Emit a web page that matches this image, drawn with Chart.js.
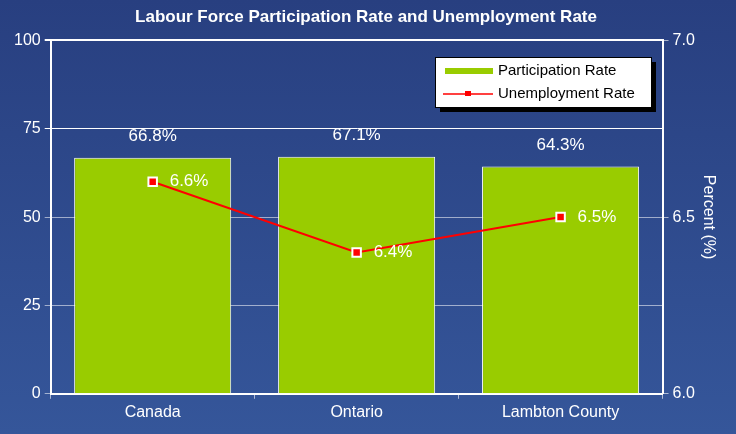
<!DOCTYPE html>
<html>
<head>
<meta charset="utf-8">
<script src="https://cdn.jsdelivr.net/npm/chart.js@4/dist/chart.umd.min.js"></script>
<style>
  html, body { margin: 0; padding: 0; background: #2c4a8c; }
  #wrap { width: 736px; height: 434px; }
</style>
</head>
<body>
<div id="wrap"><canvas id="chart" width="736" height="434"></canvas></div>
<script>
const categories = ['Canada', 'Ontario', 'Lambton County'];
const participation = [66.8, 67.1, 64.3];
const unemployment = [6.6, 6.4, 6.5];
const leftTicks = [0, 25, 50, 75, 100];
const rightTicks = [6.0, 6.5, 7.0];

const FONT = 'Liberation Sans, Arial, sans-serif';

// gradient background behind everything
const bgPlugin = {
    id: 'bg',
    beforeDraw(chart) {
        const ctx = chart.ctx;
        const g = ctx.createLinearGradient(0, 0, 0, chart.height);
        g.addColorStop(0, '#283f80');
        g.addColorStop(1, '#35569a');
        ctx.save();
        ctx.fillStyle = g;
        ctx.fillRect(0, 0, chart.width, chart.height);
        ctx.restore();
    }
};

// value labels above bars / right of points
const labelPlugin = {
    id: 'valueLabels',
    afterDatasetsDraw(chart) {
        const ctx = chart.ctx;
        ctx.save();
        ctx.fillStyle = '#ffffff';
        ctx.font = '16px ' + FONT;
        chart.data.datasets.forEach((ds, i) => {
            const meta = chart.getDatasetMeta(i);
            meta.data.forEach((el, j) => {
                const v = ds.data[j].toFixed(1) + '%';
                if (ds.type === 'bar') {
                    ctx.textAlign = 'center';
                    ctx.textBaseline = 'middle';
                    ctx.fillText(v, el.x, el.y - 21);
                } else {
                    ctx.font = '17px ' + FONT;
                    ctx.textAlign = 'left';
                    ctx.textBaseline = 'middle';
                    ctx.fillText(v, el.x + 17, el.y);
                }
            });
        });
        ctx.restore();
    }
};

// boxed legend with shadow inside the plot area
const legendBox = {
    id: 'legendBox',
    afterDraw(chart) {
        const ctx = chart.ctx;
        const bars = chart.data.datasets.find(d => d.type === 'bar');
        const line = chart.data.datasets.find(d => d.type === 'line');
        const x = 435, y = 57, w = 216, h = 50;
        ctx.save();
        ctx.fillStyle = '#000000';
        ctx.fillRect(x + 5, y + 5, w, h);
        ctx.fillStyle = '#ffffff';
        ctx.fillRect(x, y, w, h);
        ctx.strokeStyle = '#000000';
        ctx.lineWidth = 1;
        ctx.strokeRect(x + 0.5, y + 0.5, w, h);
        ctx.fillStyle = '#99cc00';
        ctx.fillRect(x + 10, y + 11, 48, 6);
        ctx.strokeStyle = '#ff0000';
        ctx.lineWidth = 1.5;
        ctx.beginPath();
        ctx.moveTo(x + 8, y + 37);
        ctx.lineTo(x + 58, y + 37);
        ctx.stroke();
        ctx.fillStyle = '#ff0000';
        ctx.fillRect(x + 30, y + 34, 6, 5);
        ctx.fillStyle = '#000000';
        ctx.font = '15px ' + FONT;
        ctx.textAlign = 'left';
        ctx.textBaseline = 'middle';
        ctx.fillText(bars.label, x + 63, y + 14);
        ctx.fillText(line.label, x + 63, y + 37);
        ctx.restore();
    }
};

new Chart(document.getElementById('chart').getContext('2d'), {
    data: {
        labels: categories,
        datasets: [
            {
                type: 'line',
                label: 'Unemployment Rate',
                data: unemployment,
                yAxisID: 'y1',
                borderColor: '#ff0000',
                borderWidth: 2,
                backgroundColor: '#ff0000',
                pointStyle: 'rect',
                pointRadius: 6,
                pointBorderColor: '#ffffff',
                pointBorderWidth: 2,
                pointBackgroundColor: '#ff0000',
                tension: 0,
                order: 0
            },
            {
                type: 'bar',
                label: 'Participation Rate',
                data: participation,
                yAxisID: 'y',
                backgroundColor: '#99cc00',
                borderColor: '#ffffff',
                borderWidth: 1,
                barPercentage: 0.77,
                categoryPercentage: 1,
                order: 1
            }
        ]
    },
    options: {
        responsive: false,
        animation: false,
        layout: { padding: { top: 3, right: 14, left: 10, bottom: 8 } },
        plugins: {
            legend: { display: false },
            tooltip: { enabled: false },
            title: {
                display: true,
                text: 'Labour Force Participation Rate and Unemployment Rate',
                color: '#ffffff',
                font: { family: FONT, size: 17, weight: 'bold' },
                padding: { top: 4, bottom: 13 }
            }
        },
        scales: {
            x: {
                grid: { offset: true, color: 'rgba(255,255,255,0.6)', drawOnChartArea: false, tickLength: 5 },
                border: { color: '#ffffff', width: 2 },
                ticks: { color: '#ffffff', font: { family: FONT, size: 16 }, padding: 4 }
            },
            y: {
                position: 'left',
                min: 0,
                max: 100,
                afterBuildTicks: axis => { axis.ticks = leftTicks.map(v => ({ value: v })); },
                grid: {
                    color: ctx => ctx.tick.value === 75 || ctx.tick.value === 100 ? '#ffffff' : 'rgba(255,255,255,0.55)',
                    lineWidth: ctx => ctx.tick.value === 100 ? 2 : 1,
                    tickLength: 6
                },
                border: { color: '#ffffff', width: 2 },
                ticks: { color: '#ffffff', font: { family: FONT, size: 16 }, padding: 4 }
            },
            y1: {
                position: 'right',
                min: 6.0,
                max: 7.0,
                afterBuildTicks: axis => { axis.ticks = rightTicks.map(v => ({ value: v })); },
                grid: { drawOnChartArea: false, color: 'rgba(255,255,255,0.6)', tickLength: 6 },
                border: { color: '#ffffff', width: 2 },
                ticks: {
                    color: '#ffffff',
                    font: { family: FONT, size: 16 },
                    padding: 4,
                    callback: v => Number(v).toFixed(1)
                },
                title: {
                    display: true,
                    text: 'Percent (%)',
                    color: '#ffffff',
                    font: { family: FONT, size: 16 },
                    padding: { top: 4, bottom: 0 }
                }
            }
        }
    },
    plugins: [bgPlugin, labelPlugin, legendBox]
});
</script>
</body>
</html>
